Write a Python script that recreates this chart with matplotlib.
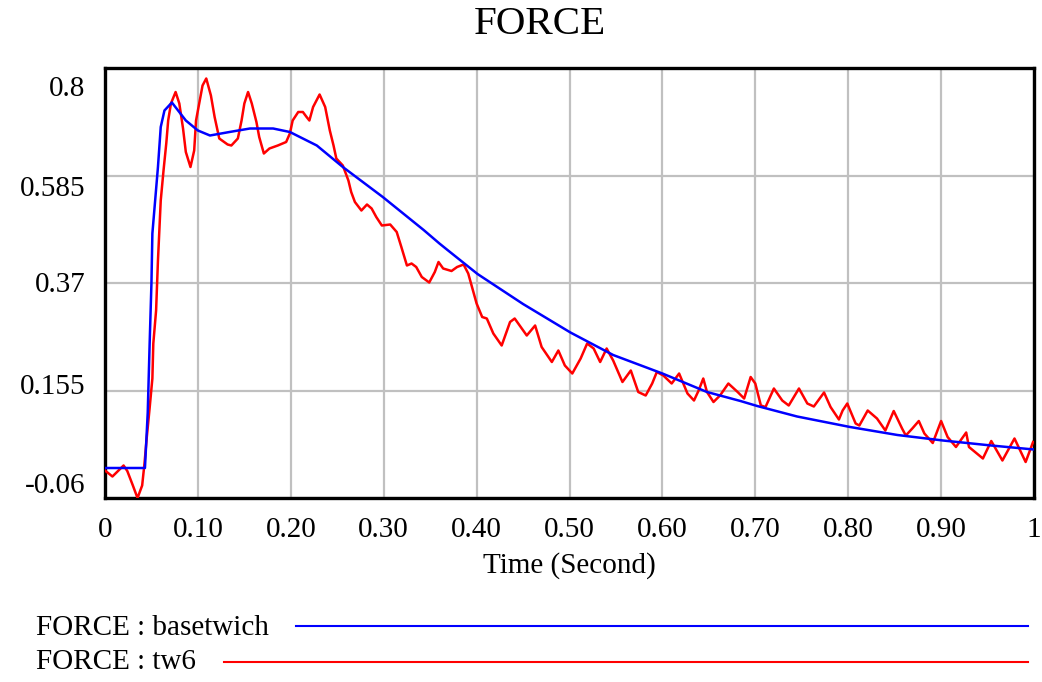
import numpy as np
import matplotlib.pyplot as plt
import matplotlib.transforms as mtransforms
from matplotlib.lines import Line2D

plt.rcParams['font.family'] = ['Liberation Serif', 'DejaVu Serif']

# FORCE : basetwich
t_base = [0.0, 0.043, 0.046, 0.048, 0.050, 0.051, 0.057, 0.060, 0.064, 0.072,
          0.087, 0.100, 0.113, 0.134, 0.156, 0.181, 0.199, 0.228, 0.256, 0.299,
          0.343, 0.360, 0.368, 0.401, 0.450, 0.501, 0.547, 0.600, 0.648, 0.684,
          0.702, 0.745, 0.802, 0.853, 0.902, 0.954, 1.0]
f_base = [0.0, 0.0, 0.111, 0.245, 0.370, 0.469, 0.602, 0.682, 0.715, 0.731,
          0.695, 0.675, 0.665, 0.672, 0.679, 0.679, 0.672, 0.645, 0.602, 0.542,
          0.476, 0.449, 0.437, 0.388, 0.328, 0.271, 0.226, 0.189, 0.152, 0.134,
          0.124, 0.103, 0.082, 0.066, 0.055, 0.045, 0.037]

# FORCE : tw6
t_tw6 = [0.000, 0.008, 0.014, 0.020, 0.024, 0.030, 0.035, 0.040, 0.0425, 0.045,
         0.048, 0.051, 0.052, 0.055, 0.057, 0.060, 0.063, 0.066, 0.068, 0.071,
         0.076, 0.080, 0.084, 0.087, 0.092, 0.096, 0.098, 0.102, 0.105, 0.109,
         0.114, 0.118, 0.123, 0.132, 0.136, 0.143, 0.147, 0.150, 0.154, 0.158,
         0.163, 0.166, 0.171, 0.177, 0.186, 0.195, 0.199, 0.202, 0.208, 0.213,
         0.217, 0.220, 0.224, 0.231, 0.237, 0.242, 0.246, 0.249, 0.256, 0.262,
         0.265, 0.269, 0.276, 0.282, 0.287, 0.292, 0.298, 0.307, 0.314, 0.319,
         0.325, 0.330, 0.335, 0.341, 0.349, 0.355, 0.359, 0.364, 0.373, 0.379,
         0.386, 0.391, 0.395, 0.400, 0.406, 0.411, 0.418, 0.427, 0.436, 0.441,
         0.454, 0.463, 0.470, 0.481, 0.488, 0.495, 0.503, 0.512, 0.519, 0.526,
         0.533, 0.540, 0.547, 0.557, 0.566, 0.574, 0.582, 0.589, 0.594, 0.601,
         0.610, 0.618, 0.627, 0.634, 0.639, 0.644, 0.648, 0.655, 0.662, 0.671,
         0.681, 0.688, 0.695, 0.700, 0.706, 0.711, 0.720, 0.729, 0.736, 0.747,
         0.756, 0.763, 0.774, 0.781, 0.790, 0.794, 0.799, 0.808, 0.812, 0.821,
         0.831, 0.840, 0.849, 0.858, 0.862, 0.869, 0.876, 0.882, 0.891, 0.900,
         0.907, 0.916, 0.927, 0.930, 0.945, 0.954, 0.966, 0.979, 0.991, 0.999]
f_tw6 = [-0.005, -0.017, -0.006, 0.005, -0.006, -0.035, -0.060, -0.035, 0.009, 0.062,
         0.119, 0.179, 0.249, 0.315, 0.415, 0.535, 0.595, 0.650, 0.695, 0.729,
         0.752, 0.729, 0.679, 0.632, 0.602, 0.635, 0.695, 0.735, 0.765, 0.779,
         0.745, 0.702, 0.659, 0.647, 0.645, 0.659, 0.695, 0.729, 0.752, 0.729,
         0.692, 0.662, 0.629, 0.639, 0.645, 0.652, 0.669, 0.695, 0.712, 0.712,
         0.702, 0.695, 0.722, 0.747, 0.722, 0.675, 0.645, 0.619, 0.605, 0.575,
         0.552, 0.532, 0.515, 0.527, 0.519, 0.502, 0.485, 0.487, 0.472, 0.442,
         0.405, 0.409, 0.402, 0.382, 0.371, 0.392, 0.412, 0.399, 0.394, 0.402,
         0.407, 0.389, 0.362, 0.329, 0.302, 0.299, 0.269, 0.245, 0.292, 0.299,
         0.265, 0.285, 0.242, 0.212, 0.235, 0.205, 0.189, 0.219, 0.249, 0.239,
         0.212, 0.239, 0.215, 0.172, 0.195, 0.152, 0.145, 0.169, 0.192, 0.185,
         0.169, 0.189, 0.149, 0.135, 0.155, 0.179, 0.152, 0.132, 0.145, 0.169,
         0.152, 0.139, 0.182, 0.169, 0.125, 0.122, 0.159, 0.135, 0.125, 0.159,
         0.129, 0.123, 0.151, 0.122, 0.097, 0.115, 0.129, 0.089, 0.085, 0.115,
         0.099, 0.075, 0.114, 0.079, 0.065, 0.079, 0.094, 0.069, 0.050, 0.094,
         0.062, 0.042, 0.071, 0.042, 0.019, 0.054, 0.015, 0.059, 0.012, 0.052]

xticks = [0, 0.1, 0.2, 0.3, 0.4, 0.5, 0.6, 0.7, 0.8, 0.9, 1.0]
xtick_labels = ['0', '0.10', '0.20', '0.30', '0.40', '0.50', '0.60', '0.70', '0.80', '0.90', '1']
yticks = [-0.06, 0.155, 0.37, 0.585, 0.8]
ytick_labels = ['-0.06', '0.155', '0.37', '0.585', '0.8']

fig = plt.figure(figsize=(10.42, 6.82), dpi=100)
ax = fig.add_axes([105 / 1042, 1 - 498 / 682, 929 / 1042, 430 / 682])

ax.plot(t_tw6, f_tw6, color='#ff0000', lw=1.8, zorder=3)
ax.plot(t_base, f_base, color='#0000ff', lw=1.8, zorder=4)

ax.set_xlim(0, 1)
ax.set_ylim(-0.06, 0.8)
ax.set_xticks(xticks)
ax.set_xticklabels(xtick_labels, fontsize=21)
ax.set_yticks(yticks)
ax.set_yticklabels(ytick_labels, fontsize=21)
ax.tick_params(length=0, pad=14)
ax.grid(True, color='#c0c0c0', lw=1.6)
ax.set_axisbelow(True)
for s in ax.spines.values():
    s.set_linewidth(2.4)
    s.set_color('black')

# vensim pulls the outer y labels inside the frame
offsets_px = [-15, -6, -1, 10, 18]
for lab, off in zip(ax.get_yticklabels(), offsets_px):
    lab.set_transform(lab.get_transform() +
                      mtransforms.ScaledTranslation(0, -off / 100, fig.dpi_scale_trans))

ax.set_xlabel('Time (Second)', fontsize=21, labelpad=6)
fig.text(540 / 1042, 1 - 24 / 682, 'FORCE', fontsize=29.5, ha='center', va='center')

# legend below the plot
fig.text(36 / 1042, 1 - 628 / 682, 'FORCE : basetwich', fontsize=21, ha='left', va='center')
fig.text(36 / 1042, 1 - 662 / 682, 'FORCE : tw6', fontsize=21, ha='left', va='center')
fig.add_artist(Line2D([296 / 1042, 1028 / 1042], [1 - 626 / 682, 1 - 626 / 682],
                      color='#0000ff', lw=1.5, transform=fig.transFigure))
fig.add_artist(Line2D([224 / 1042, 1028 / 1042], [1 - 662 / 682, 1 - 662 / 682],
                      color='#ff0000', lw=1.5, transform=fig.transFigure))

fig.savefig('out.png', dpi=100)
